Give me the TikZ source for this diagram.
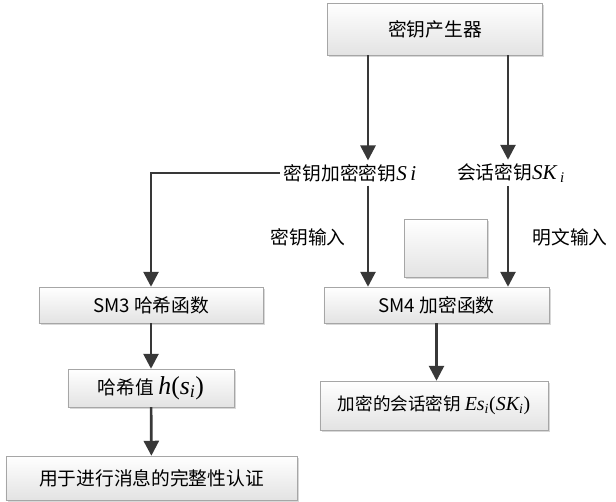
\documentclass[tikz,border=0pt]{standalone}
\usepackage{fontspec}
\setmainfont{Liberation Serif}
\newfontfamily\cjk{Noto Sans CJK SC}
\usetikzlibrary{positioning,arrows.meta,shadows}
\newcommand{\itx}[1]{{\rmfamily\itshape #1}}
\newcommand{\isub}[1]{\textsubscript{\itx{#1}}}

\begin{document}
\begin{tikzpicture}[x=0.03cm, y=-0.03cm, font=\cjk\fontsize{16}{19}\selectfont,
  >={Triangle[length=4.5mm, width=4.5mm]},
  box/.style={draw=gray!70, top color=white, bottom color=gray!22, inner sep=0pt,
    drop shadow={shadow xshift=1.5pt, shadow yshift=-1.5pt, fill=gray!60, opacity=0.5}},
  flow/.style={->, line width=2.3pt, draw=black!78},
  tag/.style={inner sep=3pt}]
  \useasboundingbox (0,0) rectangle (616,501);
  \def\colS{368} \def\colP{508}
  \coordinate (cS) at (\colS,0);
  \coordinate (cP) at (\colP,0);
  % boxes
  \node[box, minimum width=6.45cm, minimum height=1.56cm] (gen) at (435,29) {密钥产生器};
  \node[box, minimum width=6.72cm, minimum height=1.08cm] (sm3) at (151,305) {SM3 哈希函数};
  \node[box, minimum width=6.75cm, minimum height=1.08cm] (sm4) at (436.5,305) {SM4 加密函数};
  \node[box, minimum width=2.49cm, minimum height=1.74cm] (blank) at (445.5,248) {};
  \node[box, minimum width=4.98cm, minimum height=1.14cm] (hash) at (151,388)
    {哈希值 {\fontsize{22}{24}\selectfont\itx{h}{\rmfamily(}\itx{s}\isub{i}{\rmfamily)}}};
  \node[box, minimum width=8.73cm, minimum height=1.32cm] (use) at (151.5,478) {用于进行消息的完整性认证};
  \node[box, minimum width=6.84cm, minimum height=1.47cm, font=\cjk\fontsize{15}{18}\selectfont] (enc) at (434,405.5)
    {加密的会话密钥 {\fontsize{17}{19}\selectfont\itx{Es}\isub{i}{\rmfamily(}\itx{SK}\isub{i}{\rmfamily)}}};
  % labels
  \node[tag] (si) at (350,173) {密钥加密密钥{\fontsize{18}{20}\selectfont\itx{S\,i}}};
  \node[tag] (sk) at (511,173) {会话密钥{\fontsize{18}{20}\selectfont\itx{SK}\,\isub{i}}};
  \node[tag] (keyin) at (308,237) {密钥输入};
  \node[tag] (plainin) at (570,237) {明文输入};
  % connectors
  \foreach \c/\t in {cS/si, cP/sk} {
    \draw[flow] (gen.south -| \c) -- (\t.north -| \c);
    \draw[flow] (\t.south -| \c) -- (sm4.north -| \c);
  }
  \draw[flow] (si.west) -| (sm3.north);
  \draw[flow] (sm3) -- (hash);
  \draw[flow] (hash) -- (use);
  \draw[flow] (sm4.south) -- (sm4.south |- enc.north);
\end{tikzpicture}
\end{document}
